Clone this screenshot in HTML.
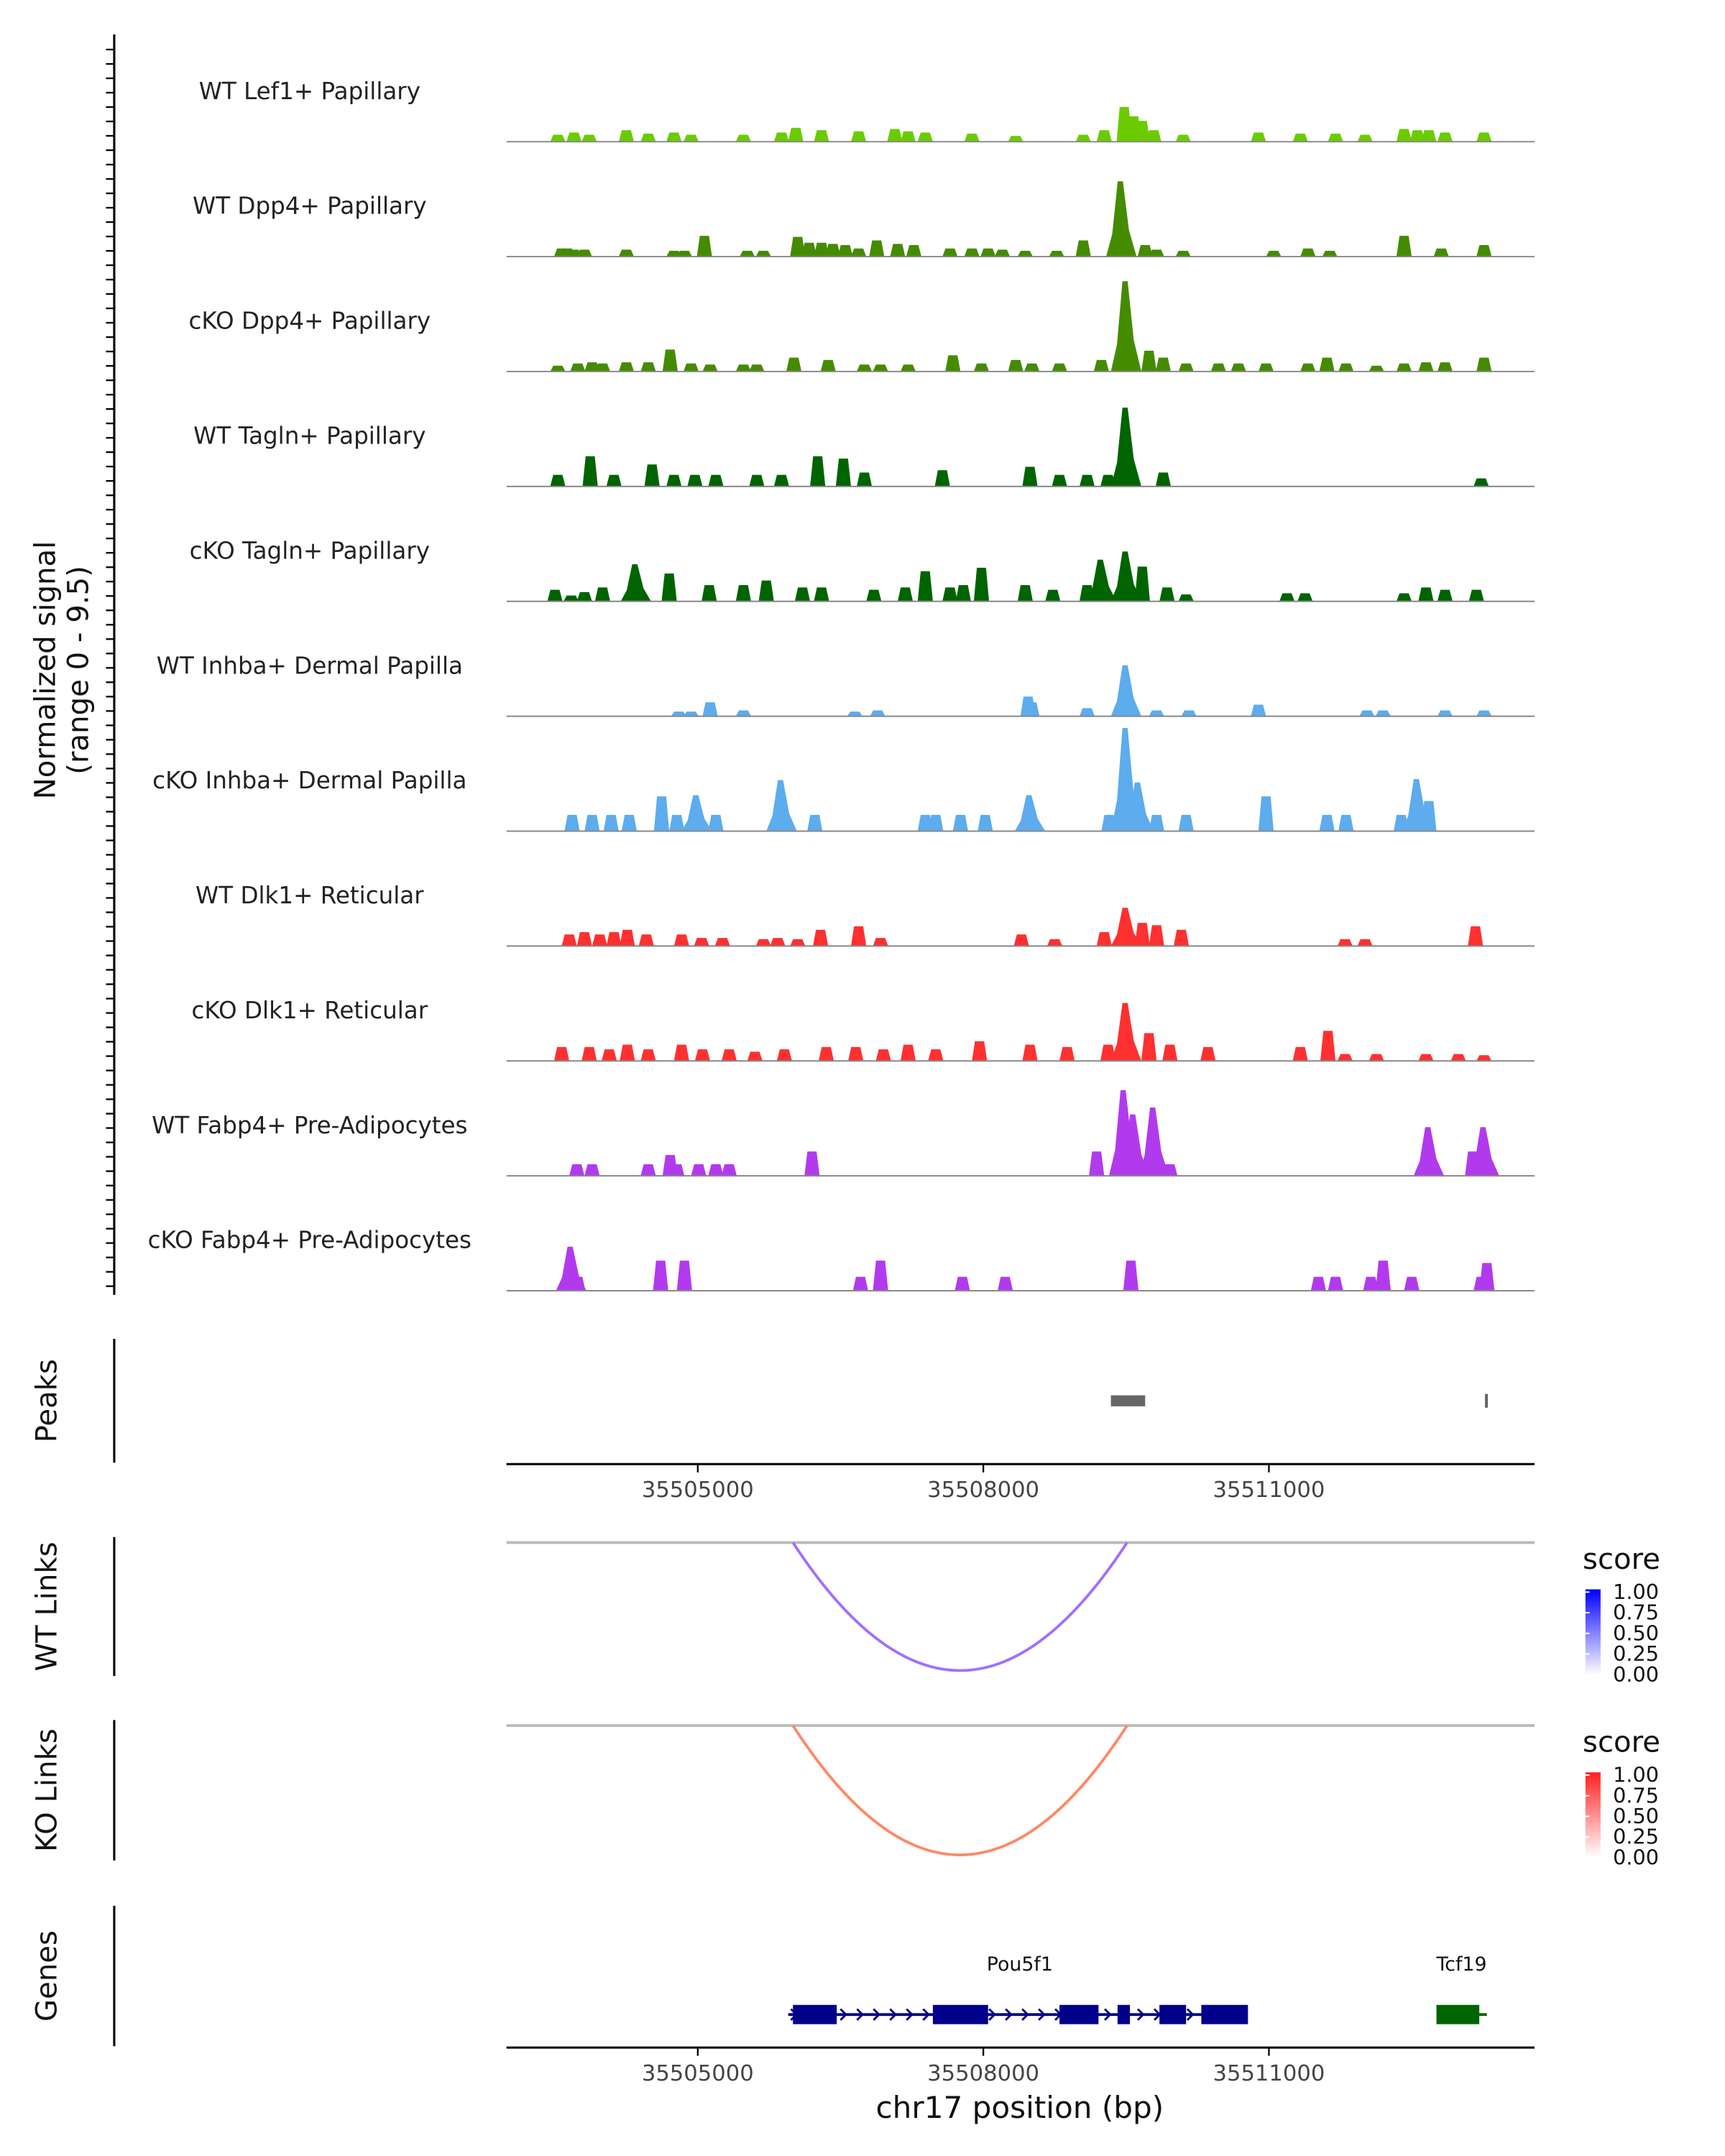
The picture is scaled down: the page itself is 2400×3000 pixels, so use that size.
<!DOCTYPE html>
<html><head><meta charset="utf-8"><style>
html,body{margin:0;padding:0;background:#fff}
svg{display:block}
text{font-family:"DejaVu Sans","Liberation Sans",sans-serif}
</style></head><body>
<svg id="chart" xmlns="http://www.w3.org/2000/svg" width="2400" height="3000" viewBox="0 0 1253.4 1566.8" preserveAspectRatio="none">
<rect width="1253.4" height="1566.8" fill="#fff"/>
<g id="tracks"></g>
</svg>
<script>
// genomic positions in kb offset from chr17:35,500,000
const trackNames = ["WT Lef1+ Papillary","WT Dpp4+ Papillary","cKO Dpp4+ Papillary","WT Tagln+ Papillary","cKO Tagln+ Papillary","WT Inhba+ Dermal Papilla","cKO Inhba+ Dermal Papilla","WT Dlk1+ Reticular","cKO Dlk1+ Reticular","WT Fabp4+ Pre-Adipocytes","cKO Fabp4+ Pre-Adipocytes"];
const trackColors = ["#6acc00","#458b00","#458b00","#006400","#006400","#5cacee","#5cacee","#ff3030","#ff3030","#b23aee","#b23aee"];
const pos1 = [3.53,3.70,3.86,4.25,4.48,4.75,4.93,5.48,5.88,6.03,6.30,6.69,7.07,7.21,7.39,7.88,8.34,9.05,9.27,9.48,9.58,9.67,9.79,10.10,10.89,11.33,11.70,12.01,12.42,12.56,12.68,12.85,13.26];
const val1 = [0.6,0.8,0.6,1.0,0.7,0.8,0.6,0.6,0.8,1.2,1.0,0.9,1.1,0.9,0.8,0.7,0.5,0.6,1.0,3.0,2.2,1.8,1.0,0.6,0.8,0.7,0.7,0.6,1.1,1.0,1.0,0.8,0.8];
const pos2 = [3.57,3.63,3.70,3.81,4.25,4.75,4.86,5.07,5.52,5.69,6.05,6.17,6.30,6.42,6.55,6.69,6.88,7.10,7.27,7.65,7.88,8.05,8.20,8.44,8.77,9.05,9.45,9.70,9.82,10.10,11.05,11.41,11.64,12.42,12.81,13.26];
const val2 = [0.7,0.7,0.6,0.6,0.6,0.5,0.5,1.8,0.5,0.5,1.7,1.2,1.2,1.1,1.0,0.7,1.4,1.1,1.0,0.7,0.7,0.7,0.6,0.5,0.5,1.4,6.5,1.0,0.6,0.5,0.5,0.7,0.5,1.8,0.7,1.0];
const pos3 = [3.53,3.74,3.89,4.00,4.25,4.48,4.71,4.93,5.13,5.48,5.62,6.01,6.37,6.75,6.92,7.21,7.68,7.98,8.34,8.51,8.80,9.24,9.50,9.74,9.89,10.13,10.47,10.68,10.97,11.41,11.61,11.81,12.13,12.42,12.65,12.85,13.26];
const val3 = [0.5,0.7,0.8,0.7,0.8,0.8,1.9,0.7,0.6,0.6,0.6,1.2,1.0,0.6,0.6,0.6,1.4,0.7,1.0,0.7,0.7,1.0,7.8,1.8,1.2,0.7,0.7,0.7,0.7,0.7,1.2,0.7,0.5,0.7,0.8,0.8,1.2];
const pos4 = [3.53,3.87,4.12,4.52,4.75,4.97,5.19,5.62,5.88,6.26,6.53,6.75,7.57,8.49,8.80,9.09,9.31,9.50,9.89,13.23];
const val4 = [1.0,2.6,1.0,1.9,1.0,1.0,1.0,1.0,1.0,2.6,2.4,1.2,1.4,1.7,1.0,1.0,1.0,6.8,1.2,0.7];
const pos5 = [3.50,3.67,3.81,4.00,4.35,4.70,5.12,5.48,5.72,6.10,6.30,6.85,7.18,7.39,7.65,7.79,7.98,8.44,8.73,9.09,9.24,9.50,9.67,9.93,10.13,11.19,11.38,12.42,12.65,12.85,13.18];
const val5 = [1.0,0.5,0.8,1.2,3.2,2.4,1.4,1.4,1.8,1.2,1.2,1.0,1.2,2.6,1.2,1.4,2.9,1.4,1.0,1.4,3.6,4.3,3.0,1.2,0.6,0.7,0.7,0.7,1.2,1.0,1.0];
const pos6 = [4.80,4.93,5.13,5.48,6.65,6.89,8.47,8.51,9.09,9.50,9.82,10.16,10.89,12.03,12.20,12.85,13.26];
const val6 = [0.4,0.4,1.2,0.5,0.4,0.5,1.7,1.2,0.7,4.4,0.5,0.5,1.0,0.5,0.5,0.5,0.5];
const pos7 = [3.68,3.89,4.09,4.28,4.62,4.78,4.99,5.19,5.88,6.23,7.39,7.50,7.76,8.02,8.49,9.32,9.50,9.63,9.82,10.13,10.97,11.61,11.81,12.39,12.56,12.68];
const val7 = [1.4,1.4,1.4,1.4,3.0,1.4,3.1,1.4,4.4,1.4,1.4,1.4,1.4,1.4,3.1,1.4,8.9,4.2,1.4,1.4,3.0,1.4,1.4,1.4,4.5,2.6];
const pos8 = [3.65,3.81,3.97,4.12,4.26,4.46,4.83,5.04,5.26,5.69,5.84,6.05,6.29,6.69,6.92,8.40,8.75,9.27,9.50,9.67,9.82,10.08,11.80,12.01,13.17];
const val8 = [1.0,1.2,1.0,1.2,1.4,1.0,1.0,0.7,0.7,0.6,0.7,0.6,1.4,1.7,0.7,1.0,0.6,1.2,3.3,2.0,1.8,1.4,0.6,0.6,1.7];
const pos9 = [3.57,3.86,4.07,4.26,4.48,4.83,5.05,5.33,5.60,5.91,6.35,6.66,6.95,7.21,7.50,7.96,8.49,8.88,9.31,9.50,9.74,9.96,10.36,11.33,11.62,11.80,12.13,12.65,12.99,13.26];
const val9 = [1.2,1.2,1.0,1.4,1.0,1.4,1.0,1.0,0.8,1.0,1.2,1.2,1.0,1.4,1.0,1.7,1.4,1.2,1.4,5.0,2.4,1.4,1.2,1.2,2.6,0.6,0.6,0.6,0.6,0.5];
const pos10 = [3.73,3.89,4.48,4.71,4.78,5.01,5.19,5.33,6.20,9.19,9.48,9.58,9.79,9.96,12.68,13.14,13.26];
const val10 = [1.0,1.0,1.0,1.8,1.0,1.0,1.0,1.0,2.1,2.1,7.4,5.3,5.9,1.0,4.2,2.1,4.2];
const pos11 = [3.67,3.74,4.61,4.86,6.71,6.92,7.78,8.23,9.55,11.52,11.70,12.07,12.20,12.50,13.23,13.29];
const val11 = [3.8,1.2,2.6,2.6,1.2,2.6,1.2,1.2,2.6,1.2,1.2,1.2,2.6,1.2,1.2,2.4];
const allPos = [pos1,pos2,pos3,pos4,pos5,pos6,pos7,pos8,pos9,pos10,pos11];
const allVal = [val1,val2,val3,val4,val5,val6,val7,val8,val9,val10,val11];
const peakRegions = [[9.34,9.70],[13.27,13.30]];
const linkWT = [6.00,9.51];
const linkKO = [6.00,9.51];
const geneExons = [[6.00,6.46],[7.47,8.05],[8.80,9.21],[9.41,9.54],[9.85,10.13],[10.29,10.78]];
const geneSpan = [5.95,10.77];
const tcf19Span = [12.76,13.29];
const tcf19Exon = [12.76,13.21];
const xTicks = [5.0,8.0,11.0];
const xTickLabels = ["35505000","35508000","35511000"];
const legendTicks = ["1.00","0.75","0.50","0.25","0.00"];
const yMax = 9.5;

const NS="http://www.w3.org/2000/svg";
const root=document.getElementById('tracks');
const X = kb => 507 + (kb-5.0)*(207.5/3.0);
function el(tag,attrs,parent){const e=document.createElementNS(NS,tag);for(const k in attrs)e.setAttribute(k,attrs[k]);(parent||root).appendChild(e);return e;}
function txt(s,attrs,parent){const t=el('text',attrs,parent);t.textContent=s;return t;}

const ax=el('line',{x1:83,y1:25,x2:83,y2:941,stroke:'#000','stroke-width':1.6});


for(let y=36;y<=940;y+=10.45){const t=el('line',{x1:77,y1:y,x2:83,y2:y,stroke:'#000','stroke-width':1.2});

}
const yt=txt('',{transform:'translate(40,487) rotate(-90)','text-anchor':'middle','font-size':21,fill:'#111'});


el('tspan',{x:0,dy:0},yt).textContent='Normalized signal';
el('tspan',{x:0,dy:24},yt).textContent='(range 0 - 9.5)';

const pxPerUnit = 80/yMax;
for(let i=0;i<11;i++){
  const base=103+i*83.5;
  const g=el('g',{});
  
  
  const lab=txt(trackNames[i],{x:225,y:base-31,'text-anchor':'middle','font-size':17,fill:'#222'},g);
  
  
  const P=allPos[i],V=allVal[i];
  for(let j=0;j<P.length;j++){
    const big=V[j]>3;
    const w=big?0.32:0.16;
    const h=V[j]*pxPerUnit;
    const x0=X(P[j]-w/2),x3=X(P[j]+w/2);
    const pts=big?`${x0},${base} ${X(P[j]-w*0.3)},${base-h*0.3} ${X(P[j]-w*0.12)},${base-h} ${X(P[j]+w*0.05)},${base-h} ${X(P[j]+w*0.25)},${base-h*0.35} ${x3},${base}`
      :`${x0},${base} ${X(P[j]-w*0.3)},${base-h} ${X(P[j]+w*0.3)},${base-h} ${x3},${base}`;
    const p=el('polygon',{points:pts,fill:trackColors[i]},g);
    
    
  }
  const bl=el('line',{x1:368,y1:base,x2:1115,y2:base,stroke:'#888','stroke-width':1},g);
  
  
}

function panelAxis(y1,y2,label,name){
  const l=el('line',{x1:83,y1:y1,x2:83,y2:y2,stroke:'#000','stroke-width':1.6});
  
  
  const t=txt(label,{transform:`translate(41,${(y1+y2)/2}) rotate(-90)`,'text-anchor':'middle','font-size':21,fill:'#111'});
  
  
}
panelAxis(973,1063,'Peaks','peaks');
peakRegions.forEach(r=>{const w=Math.max(2,X(r[1])-X(r[0]));const big=w>5;
 const rr=el('rect',{x:X(r[0]),y:big?1014:1013,width:w,height:big?8:10,fill:'#666'});
 
 });
function xAxis(y,name){
 const l=el('line',{x1:368,y1:y,x2:1115,y2:y,stroke:'#000','stroke-width':1.6});
 
 
 xTicks.forEach((v,k)=>{const t=el('line',{x1:X(v),y1:y,x2:X(v),y2:y+6,stroke:'#000','stroke-width':1.2});
 
 
 const tl=txt(xTickLabels[k],{x:X(v),y:y+24,'text-anchor':'middle','font-size':16,fill:'#444'});
 
 });
}
xAxis(1064,'peaks-x-axis');

function links(top,bottom,link,color,legendColor,name){
 panelAxis(top-4,bottom+3,name==='wt'?'WT Links':'KO Links',name+'-links');
 const gl=el('line',{x1:368,y1:top,x2:1115,y2:top,stroke:'#bbb','stroke-width':2});
 
 
 const a=X(link[0]),b=X(link[1]),m=(a+b)/2;
 const depth=(bottom-top)*2-2;
 const p=el('path',{d:`M${a},${top} Q${m},${top+depth} ${b},${top}`,fill:'none',stroke:color,'stroke-width':2});
 
 
 const lg=el('g',{});
 
 
 txt('score',{x:1150,y:top+19,'font-size':21,fill:'#111'},lg);
 const gid='grad'+name;
 const d=el('defs',{},lg);const gr=el('linearGradient',{id:gid,x1:0,y1:0,x2:0,y2:1},d);
 el('stop',{offset:0,'stop-color':legendColor},gr);el('stop',{offset:1,'stop-color':'#fff'},gr);
 el('rect',{x:1152,y:top+34,width:11,height:62,fill:`url(#${gid})`},lg);
 legendTicks.forEach((s,k)=>{txt(s,{x:1172,y:top+41+k*15,'font-size':15,fill:'#111'},lg);
 el('line',{x1:1152,y1:top+36+k*15,x2:1155,y2:top+36+k*15,stroke:'#fff'},lg);});
}
links(1121,1215,linkWT,'#a070ff','#0000ff','wt');
links(1254,1349,linkKO,'#ff8866','#ff2020','ko');

panelAxis(1385,1487,'Genes','genes');
const gg=el('g',{});


el('line',{x1:X(geneSpan[0]),y1:1464,x2:X(geneSpan[1]),y2:1464,stroke:'#00008b','stroke-width':2},gg);
for(let x=X(geneSpan[0])+2;x<X(geneSpan[1]);x+=12){el('path',{d:`M${x},1460 L${x+4},1464 L${x},1468`,fill:'none',stroke:'#00008b','stroke-width':1.5},gg);}
geneExons.forEach(e=>{const r=el('rect',{x:X(e[0]),y:1457,width:X(e[1])-X(e[0]),height:14,fill:'#00008b'},gg);
 
 });
txt('Pou5f1',{x:741,y:1432,'text-anchor':'middle','font-size':14,fill:'#111'},gg);
const tg=el('g',{});


el('line',{x1:X(tcf19Span[0]),y1:1464,x2:X(tcf19Span[1]),y2:1464,stroke:'#006400','stroke-width':2},tg);
el('rect',{x:X(tcf19Exon[0]),y:1457,width:X(tcf19Exon[1])-X(tcf19Exon[0]),height:14,fill:'#006400'},tg);
txt('Tcf19',{x:1062,y:1432,'text-anchor':'middle','font-size':14,fill:'#111'},tg);
xAxis(1488,'genes-x-axis');
const xt=txt('chr17 position (bp)',{x:741,y:1539,'text-anchor':'middle','font-size':22,fill:'#111'});


</script>
</body></html>
